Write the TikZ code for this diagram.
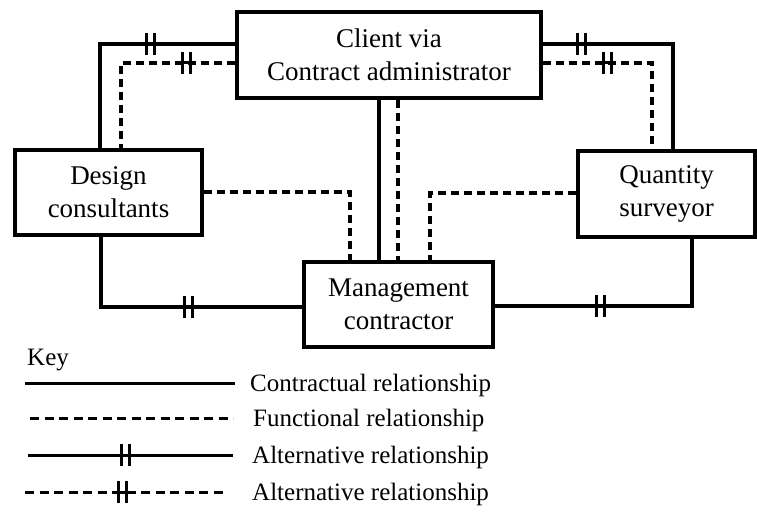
\documentclass[tikz,border=0pt]{standalone}
\usepackage{fontspec}
\setmainfont{Liberation Serif}
\begin{document}
\begin{tikzpicture}[x=1pt,y=-1pt,
  box/.style={draw,line width=3.5pt,align=center,inner sep=0pt,
    font=\fontsize{27}{33}\selectfont},
  solidlink/.style={line width=3.3pt},
  dashlink/.style={line width=3.3pt,dash pattern=on 8pt off 5pt},
  keytext/.style={anchor=base west,inner sep=0pt,font=\fontsize{25}{30}\selectfont},
  dbar/.pic={\draw[line width=3pt] (-4,-11) -- (-4,11) (4,-11) -- (4,11);},
  ddbar/.pic={\draw[line width=3pt] (-9,0) -- (9,0);
              \draw[line width=3pt] (-4,-11) -- (-4,11) (4,-11) -- (4,11);}
]
\useasboundingbox (0,0) rectangle (757,511);

% parties
\node[box,minimum width=304pt,minimum height=86pt] (client) at (389,55) {Client via\\Contract administrator};
\node[box,minimum width=187pt,minimum height=85pt] (design) at (108.5,192.5) {Design\\consultants};
\node[box,minimum width=177pt,minimum height=86pt] (qs) at (666.5,194) {Quantity\\surveyor};
\node[box,minimum width=189pt,minimum height=85pt] (mgmt) at (398.5,304.5) {Management\\contractor};

% corner points of the links
\coordinate (cdS) at (100,44);
\coordinate (cdF) at (121,63);
\coordinate (cqS) at (673,44);
\coordinate (cqF) at (652,63);
\coordinate (dmS) at (101,307);
\coordinate (qmS) at (692,306);
\coordinate (dmF) at (350,192);
\coordinate (qmF) at (430,193);
\coordinate (cmS) at (379,0);
\coordinate (cmF) at (398,0);

% client to design consultants
\draw[solidlink] (client.west |- cdS) -- (cdS) -- (design.north -| cdS);
\draw[dashlink] (client.west |- cdF) -- (cdF) -- (design.north -| cdF);
% client to quantity surveyor
\draw[solidlink] (client.east |- cqS) -- (cqS) -- (qs.north -| cqS);
\draw[dashlink] (client.east |- cqF) -- (cqF) -- (qs.north -| cqF);
% design consultants and quantity surveyor to management contractor
\draw[solidlink] (design.south -| dmS) -- (dmS) -- (mgmt.west |- dmS);
\draw[solidlink] (qs.south -| qmS) -- (qmS) -- (mgmt.east |- qmS);
\draw[dashlink] (design.east |- dmF) -- (dmF) -- (mgmt.north -| dmF);
\draw[dashlink] (qs.west |- qmF) -- (qmF) -- (mgmt.north -| qmF);
% client to management contractor
\draw[solidlink] (client.south -| cmS) -- (mgmt.north -| cmS);
\draw[dashlink] (client.south -| cmF) -- (mgmt.north -| cmF);

% alternative-relationship markers
\pic at (150,44) {dbar};
\pic at (581,44) {dbar};
\pic at (188,307) {dbar};
\pic at (600,306) {dbar};
\pic at (186,63) {ddbar};
\pic at (607,63) {ddbar};

% key
\node[keytext] (key) at (27,365) {Key};
\coordinate (k1a) at (25,383);  \coordinate (k1b) at (235,383);
\coordinate (k2a) at (30,418);  \coordinate (k2b) at (233,418);
\coordinate (k3a) at (28,455);  \coordinate (k3b) at (233,455);
\coordinate (k4a) at (25,492);  \coordinate (k4b) at (225,492);
\draw[line width=3pt] (k1a) -- (k1b);
\draw[line width=3pt,dash pattern=on 9pt off 5.5pt] (k2a) -- (k2b);
\draw[line width=3pt] (k3a) -- (k3b);
\draw[line width=3pt,dash pattern=on 9pt off 5.5pt] (k4a) -- (k4b);
\pic at (125,455) {dbar};
\pic at (122,492) {ddbar};
\node[keytext] (t1) at (250,391) {Contractual relationship};
\node[keytext] (t2) at (253,426) {Functional relationship};
\node[keytext] (t3) at (252,463) {Alternative relationship};
\node[keytext] (t4) at (252,500) {Alternative relationship};
\end{tikzpicture}
\end{document}
